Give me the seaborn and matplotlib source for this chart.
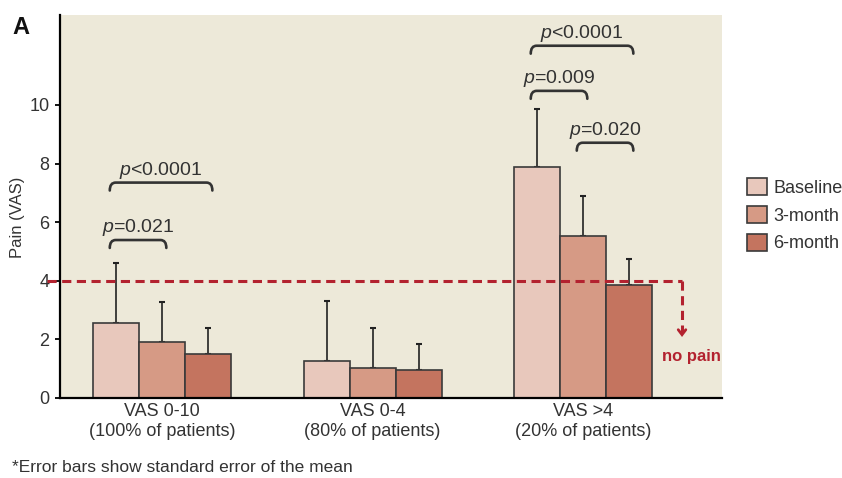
import numpy as np
import pandas as pd
import seaborn as sns
import matplotlib.pyplot as plt
from matplotlib.path import Path
from matplotlib.patches import PathPatch

# ---- data -------------------------------------------------------------
groups = ["VAS 0-10\n(100% of patients)", "VAS 0-4\n(80% of patients)", "VAS >4\n(20% of patients)"]
timepoints = ["Baseline", "3-month", "6-month"]
baseline_mean = [2.56, 1.25, 7.89]
month3_mean = [1.92, 1.02, 5.53]
month6_mean = [1.50, 0.94, 3.85]
baseline_se = [2.04, 2.07, 1.97]
month3_se = [1.37, 1.37, 1.37]
month6_se = [0.89, 0.90, 0.89]
y_ticks = [0, 2, 4, 6, 8, 10]
no_pain_threshold = 4

# pairwise comparisons: (group index, first timepoint, second timepoint, bracket height, p text)
comparisons = [
    (0, 0, 1, 5.39, "=0.021"),
    (0, 0, 2, 7.35, "<0.0001"),
    (2, 0, 2, 12.02, "<0.0001"),
    (2, 0, 1, 10.48, "=0.009"),
    (2, 1, 2, 8.71, "=0.020"),
]

means = [baseline_mean, month3_mean, month6_mean]
ses = [baseline_se, month3_se, month6_se]
df = pd.DataFrame({
    "group": np.repeat([groups], 3, axis=0).ravel(),
    "timepoint": np.repeat(timepoints, len(groups)),
    "pain": np.concatenate(means),
})

# ---- style ------------------------------------------------------------
sns.set_style("ticks")
plt.rcParams["font.family"] = ["Liberation Sans", "DejaVu Sans"]
plt.rcParams["mathtext.fontset"] = "custom"
plt.rcParams["mathtext.rm"] = "Liberation Sans"
plt.rcParams["mathtext.it"] = "Liberation Sans:italic"

palette = ["#E8C8BC", "#D69A85", "#C4745F"]
bg = "#EDE9D9"
red = "#B3222F"
text_grey = "#333333"
narrow = ["Liberation Sans Narrow", "Liberation Sans"]

fig = plt.figure(figsize=(8.42, 4.78), dpi=100)
ax = fig.add_axes([0.0713, 0.1674, 0.7862, 0.8013])
ax.set_facecolor(bg)

sns.barplot(data=df, x="group", y="pain", hue="timepoint", order=groups,
            hue_order=timepoints, palette=palette, errorbar=None, width=0.656,
            edgecolor="#3a3a3a", linewidth=1.2, saturation=1, ax=ax, zorder=2)

# one-sided error bars (standard error of the mean)
centers = []
for cont, se in zip(ax.containers, ses):
    row = []
    for bar, e in zip(cont.patches, se):
        xc = bar.get_x() + bar.get_width() / 2
        row.append(xc)
        ax.errorbar(xc, bar.get_height(), yerr=[[0], [e]], fmt="none",
                    ecolor="#222222", elinewidth=1.2, capsize=2.2, capthick=1.5, zorder=1)
    centers.append(row)

ax.set_xlim(-0.485, 2.66)
ax.set_ylim(0, 13.07)
ax.set_yticks(y_ticks)
ax.set_yticklabels([str(t) for t in y_ticks], family=narrow, fontsize=13, color=text_grey)
ax.tick_params(axis="y", length=3.6, width=1.3, pad=4, color="black")
ax.tick_params(axis="x", length=0, pad=3.5, labelsize=13, labelcolor=text_grey)
for lab in ax.get_xticklabels():
    lab.set_linespacing(1.25)
ax.set_xlabel("")
ax.set_ylabel("")
for s in ("top", "right"):
    ax.spines[s].set_visible(False)
for s in ("left", "bottom"):
    ax.spines[s].set_linewidth(1.6)
    ax.spines[s].set_color("black")
    ax.spines[s].set_zorder(5)

# significance brackets
hook_h = 0.27
hook_w = 0.028
for g, a, b, h, txt in comparisons:
    x0 = centers[a][g] - 0.03
    x1 = centers[b][g] + 0.02
    verts = [(x0, h - hook_h), (x0, h), (x0 + hook_w, h),
             (x1 - hook_w, h), (x1, h), (x1, h - hook_h)]
    codes = [Path.MOVETO, Path.CURVE3, Path.CURVE3,
             Path.LINETO, Path.CURVE3, Path.CURVE3]
    ax.add_patch(PathPatch(Path(verts, codes), fill=False, lw=1.9,
                           edgecolor=text_grey, capstyle="round", zorder=4))
    ax.annotate(r"$p$" + txt, xy=((x0 + x1) / 2, h), xytext=(0, 1.5),
                textcoords="offset points", ha="center", va="bottom",
                fontsize=14, color=text_grey)

# no-pain threshold line with downward arrow
x_left = -0.546
x_turn = 2.470
ax.plot([x_left, x_turn], [no_pain_threshold, no_pain_threshold], color=red,
        lw=2.2, dashes=(3.0, 1.8), clip_on=False, zorder=3)
ax.plot([x_turn, x_turn], [no_pain_threshold, 2.22], color=red,
        lw=2.2, dashes=(3.0, 1.8), zorder=3)
ax.plot([x_turn - 0.018, x_turn, x_turn + 0.018], [2.33, 2.16, 2.33],
        color=red, lw=2.0, solid_joinstyle="miter", zorder=3)
ax.text(2.513, 1.40, "no pain", ha="center", va="center", color=red,
        fontsize=12, fontweight="bold", family=narrow)

# legend
sns.move_legend(ax, loc="upper left", bbox_to_anchor=(747 / 842, 1 - 178 / 478),
                bbox_transform=fig.transFigure, frameon=False, title=None,
                fontsize=13, handlelength=1.1, handleheight=1.1,
                labelspacing=0.5, handletextpad=0.35, borderpad=0, borderaxespad=0)
for t in ax.get_legend().get_texts():
    t.set_color(text_grey)

# labels around the plot
fig.text(18 / 842, 1 - 217 / 478, "Pain (VAS)", rotation=90, ha="center",
         va="center", fontsize=12, family=narrow, color=text_grey)
fig.text(12 / 842, 1 - 27 / 478, "A", ha="left", va="center", fontsize=17,
         fontweight="bold", family=narrow, color="#111111")
fig.text(12 / 842, 1 - 467 / 478, "*Error bars show standard error of the mean",
         ha="left", va="center", fontsize=12.5, color=text_grey)

fig.savefig("out.png", dpi=100)
